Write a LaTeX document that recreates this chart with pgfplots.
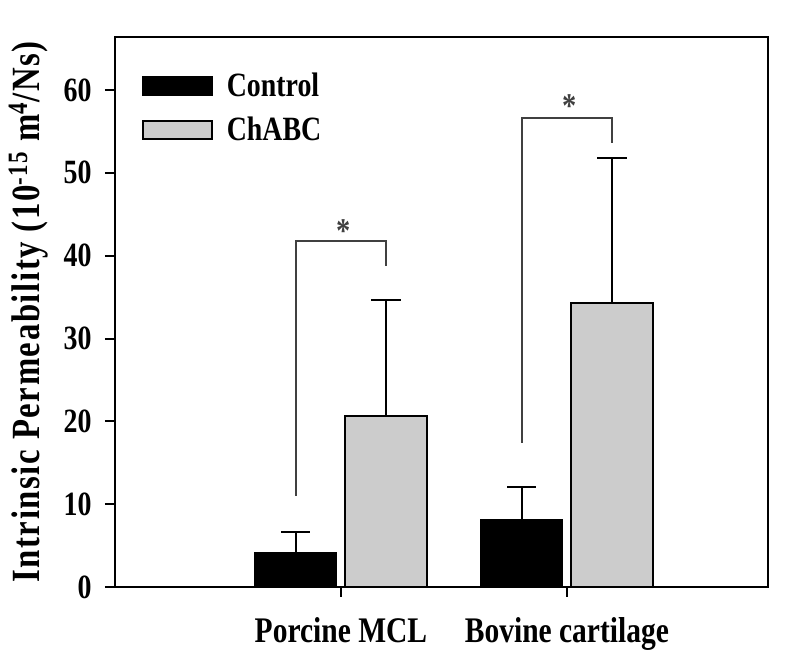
\documentclass[border=0pt]{standalone}
\usepackage{pgfplots}
\pgfplotsset{compat=1.18}
\usepackage{fontspec}
\setmainfont{Liberation Serif}[FakeStretch=0.82]
\newfontfamily\labelfont{Liberation Serif}[FakeStretch=0.82, LetterSpace=4]

\definecolor{chgray}{HTML}{CCCCCC}
\definecolor{brk}{HTML}{404040}

\begin{document}
\begin{tikzpicture}
\begin{axis}[
    scale only axis,
    width=489.75pt, height=412.5pt,
    xmin=0, xmax=2.89,
    ymin=0, ymax=66.4,
    ytick={0,10,...,60},
    xtick={1,2},
    xticklabels={Porcine MCL, Bovine cartilage},
    tick align=outside,
    major tick length=7.5pt,
    xtick pos=bottom, ytick pos=left,
    axis line style={line width=2pt},
    tick style={line width=1.5pt, black},
    /pgf/number format/assume math mode=true,
    yticklabel style={font=\fontsize{25.5}{25.5}\selectfont\bfseries, xshift=-6.5pt},
    xticklabel style={font=\fontsize{27}{27}\selectfont\bfseries, yshift=-12pt},
    ylabel={Intrinsic Permeability (10\textsuperscript{-15} m\textsuperscript{4}/Ns)},
    ylabel style={font=\fontsize{30}{30}\labelfont\bfseries, yshift=5pt},
    legend style={draw=none, fill=none, at={(0.035,0.945)}, anchor=north west,
        font=\fontsize{25.5}{25.5}\selectfont\bfseries, row sep=10pt,
        nodes={inner xsep=10pt}},
    legend cell align=left,
    legend image code/.code={\draw[#1, line width=1.5pt] (0pt,-6.75pt) rectangle (52pt,6.75pt);},
]
% Control bars
\addplot[ybar, bar width=0.36, bar shift=0pt, fill=black, draw=black, line width=1.5pt,
    error bars/.cd, y dir=plus, y explicit,
    error bar style={line width=1.5pt, black},
    error mark options={rotate=90, mark size=11pt, line width=1.5pt, black}]
    coordinates {(0.8,4.15) +- (0,2.55) (1.8,8.05) +- (0,4.05)};
\addlegendentry{Control}
% ChABC bars
\addplot[ybar, bar width=0.36, bar shift=0pt, fill=chgray, draw=black, line width=1.5pt,
    error bars/.cd, y dir=plus, y explicit,
    error bar style={line width=1.5pt, black},
    error mark options={rotate=90, mark size=11pt, line width=1.5pt, black}]
    coordinates {(1.2,20.7) +- (0,14.0) (2.2,34.3) +- (0,17.5)};
\addlegendentry{ChABC}
% significance brackets
\addplot[brk, line width=1.8pt, forget plot] coordinates {(0.8,11.0) (0.8,41.8) (1.2,41.8) (1.2,38.8)};
\addplot[brk, line width=1.8pt, forget plot] coordinates {(1.8,17.4) (1.8,56.6) (2.2,56.6) (2.2,53.6)};
\node[brk, font=\fontsize{26}{26}\selectfont\bfseries] at (axis cs:1.01,43.0) {*};
\node[brk, font=\fontsize{26}{26}\selectfont\bfseries] at (axis cs:2.01,58.1) {*};
\end{axis}
\pgfresetboundingbox
\path[use as bounding box] ([shift={(-86.25pt,-51.75pt)}]current axis.south west)
    rectangle ([shift={(24pt,27.75pt)}]current axis.north east);
\end{tikzpicture}
\end{document}
